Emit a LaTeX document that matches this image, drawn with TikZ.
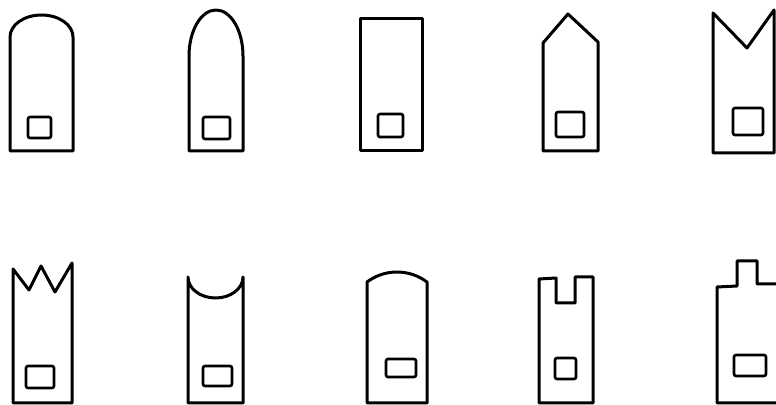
\documentclass[tikz,border=0pt]{standalone}
\usepackage{tikz}

\begin{document}
\begin{tikzpicture}[x=0.5pt, y=-0.5pt,
  tag/.style={line width=1.5pt, line join=round},
  hole/.style={line width=1.3pt, rounded corners=1pt}]
  \clip (0,0) rectangle (776,405);

  % Top row
  \draw[tag] (10,151) -- (10,37) arc[start angle=180, end angle=360, x radius=31.5, y radius=22] -- (73,151) -- cycle;
  \draw[tag] (189,151) -- (189,56) arc[start angle=180, end angle=360, x radius=27, y radius=46] -- (243,151) -- cycle;
  \draw[tag] (360,19) rectangle (422,151);
  \draw[tag] (543,151) -- (543,43) -- (568,14) -- (598,42) -- (598,151) -- cycle;
  \draw[tag] (713,153) -- (713,13) -- (747,48) -- (774,10) -- (774,153) -- cycle;

  % Bottom row
  \draw[tag] (13,403) -- (13,269) -- (29,290) -- (41,266) -- (55,292) -- (72,263) -- (72,403) -- cycle;
  \draw[tag] (188,403) -- (188,277) arc[start angle=180, end angle=0, x radius=27.5, y radius=21] -- (243,403) -- cycle;
  \draw[tag] (367,403) -- (367,282) arc[start angle=233.13, end angle=306.87, radius=50] -- (427,403) -- cycle;
  \draw[tag] (539,403) -- (539,279) -- (556,278) -- (556,303) -- (575,303) -- (575,277) -- (593,277) -- (593,403) -- cycle;
  \draw[tag] (717,403) -- (717,287) -- (737,286) -- (737,261) -- (757,261) -- (757,284) -- (778,284) -- (778,403) -- cycle;

  % Holes
  \draw[hole] (28,117) rectangle (51,138);
  \draw[hole] (203,117) rectangle (230,139);
  \draw[hole] (378,114) rectangle (403,137);
  \draw[hole] (556,112) rectangle (584,137);
  \draw[hole] (733,108) rectangle (763,135);
  \draw[hole] (26,366) rectangle (54,388);
  \draw[hole] (203,366) rectangle (232,386);
  \draw[hole] (386,359) rectangle (416,377);
  \draw[hole] (555,358) rectangle (576,379);
  \draw[hole] (734,355) rectangle (766,376);
\end{tikzpicture}
\end{document}
